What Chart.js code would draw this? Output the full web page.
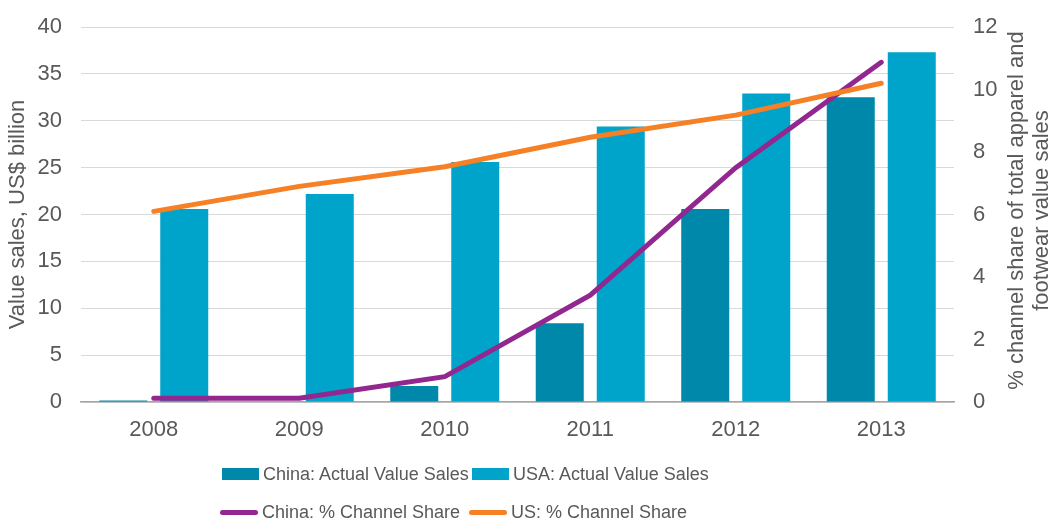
<!DOCTYPE html>
<html>
<head>
<meta charset="utf-8">
<title>Value sales and channel share</title>
<script src="https://cdn.jsdelivr.net/npm/chart.js@4.4.0/dist/chart.umd.min.js"></script>
<style>
  body { margin: 0; background: #fff; }
  #wrap { position: relative; width: 1051px; height: 523px; }
  #legend { position: absolute; left: 0; top: 0; width: 1051px; height: 523px; pointer-events: none;
            font-family: "Liberation Sans", Arial, sans-serif; font-size: 18px; color: #595959; }
  .item { position: absolute; display: flex; align-items: center; white-space: nowrap; height: 24px; }
  .box { width: 37px; height: 12px; margin-right: 4px; }
  .line { width: 38px; height: 5px; border-radius: 3px; margin-right: 4px; }
</style>
</head>
<body>
<div id="wrap">
  <canvas id="myChart"></canvas>
  <div id="legend"></div>
</div>
<script>
// data
var years = ['2008', '2009', '2010', '2011', '2012', '2013'];
var chinaSales = [0.15, 0.05, 1.7, 8.4, 20.6, 32.5];
var usaSales = [20.6, 22.2, 25.6, 29.4, 32.9, 37.3];
var chinaShare = [0.12, 0.12, 0.81, 3.42, 7.5, 10.87];
var usShare = [6.1, 6.9, 7.53, 8.47, 9.18, 10.2];
var seriesNames = ['China: Actual Value Sales', 'USA: Actual Value Sales', 'China: % Channel Share', 'US: % Channel Share'];
var leftTitle = 'Value sales, US$ billion';
var rightTitle = ['% channel share of total apparel and', 'footwear value sales'];

var colors = ['#0088AA', '#00A4CA', '#92278F', '#F58025'];
var textColor = '#595959';
var fontFamily = '"Liberation Sans", Arial, sans-serif';
var axisFontSize = 22;

// right axis title reads bottom to top, chart.js would draw it the other way
var rightTitlePlugin = {
  id: 'rightTitle',
  afterDraw: function(chart) {
    var ctx = chart.ctx;
    var area = chart.chartArea;
    ctx.save();
    ctx.fillStyle = textColor;
    ctx.font = axisFontSize + 'px ' + fontFamily;
    ctx.textAlign = 'center';
    ctx.textBaseline = 'middle';
    ctx.translate(1017, (area.top + area.bottom) / 2 - 4);
    ctx.rotate(-Math.PI / 2);
    for (var i = 0; i < rightTitle.length; i++) {
      ctx.fillText(rightTitle[i], 0, i * 25);
    }
    ctx.restore();
  }
};

// fixed axis sizes so the plot area sits where it does in the original
function fixWidth(w) {
  return function(scale) {
    scale.width = w;
    scale.paddingTop = 0;
    scale.paddingBottom = 0;
  };
}

var ctx = document.getElementById('myChart');
var myChart = new Chart(ctx, {
  type: 'bar',
  data: {
    labels: years,
    datasets: [
      { type: 'line', label: seriesNames[3], data: usShare, yAxisID: 'y1', borderColor: colors[3],
        borderWidth: 5, pointRadius: 0, tension: 0, borderCapStyle: 'round', fill: false, order: 0 },
      { type: 'line', label: seriesNames[2], data: chinaShare, yAxisID: 'y1', borderColor: colors[2],
        borderWidth: 5, pointRadius: 0, tension: 0, borderCapStyle: 'round', fill: false, order: 1 },
      { label: seriesNames[0], data: chinaSales, backgroundColor: colors[0], yAxisID: 'y',
        barPercentage: 0.787, categoryPercentage: 0.8385, order: 2 },
      { label: seriesNames[1], data: usaSales, backgroundColor: colors[1], yAxisID: 'y',
        barPercentage: 0.787, categoryPercentage: 0.8385, order: 2 }
    ]
  },
  options: {
    responsive: true,
    maintainAspectRatio: false,
    animation: false,
    layout: { padding: { top: 27, bottom: 0, left: 0, right: 0 } },
    plugins: {
      legend: { display: false },
      tooltip: { enabled: false }
    },
    scales: {
      x: {
        grid: { display: false, drawTicks: false },
        border: { display: true, color: '#A6A6A6', width: 1.5 },
        ticks: { color: textColor, font: { family: fontFamily, size: axisFontSize }, padding: 15 },
        afterFit: function(scale) { scale.height = 121; }
      },
      y: {
        position: 'left',
        min: 0, max: 40,
        ticks: { stepSize: 5, color: textColor, font: { family: fontFamily, size: axisFontSize }, padding: 19 },
        grid: { color: '#D9D9D9', lineWidth: 1, drawTicks: false },
        border: { display: false },
        title: { display: true, text: leftTitle, color: textColor,
                 font: { family: fontFamily, size: axisFontSize }, padding: { top: 5, bottom: 0 } },
        afterFit: fixWidth(81)
      },
      y1: {
        position: 'right',
        min: 0, max: 12,
        ticks: { stepSize: 2, color: textColor, font: { family: fontFamily, size: axisFontSize }, padding: 19 },
        grid: { display: false, drawTicks: false },
        border: { display: false },
        afterFit: fixWidth(97)
      }
    }
  },
  plugins: [rightTitlePlugin]
});

// legend in two rows like the original
var legendSpots = [
  { idx: 0, kind: 'box', left: 222, top: 462 },
  { idx: 1, kind: 'box', left: 472, top: 462 },
  { idx: 2, kind: 'line', left: 220, top: 500 },
  { idx: 3, kind: 'line', left: 469, top: 500 }
];
var legend = document.getElementById('legend');
legendSpots.forEach(function(s) {
  var item = document.createElement('div');
  item.className = 'item';
  item.style.left = s.left + 'px';
  item.style.top = s.top + 'px';
  var mark = document.createElement('span');
  mark.className = s.kind;
  mark.style.backgroundColor = colors[s.idx];
  var text = document.createElement('span');
  text.textContent = seriesNames[s.idx];
  item.appendChild(mark);
  item.appendChild(text);
  legend.appendChild(item);
});
</script>
</body>
</html>
